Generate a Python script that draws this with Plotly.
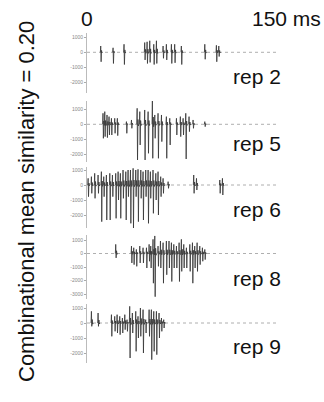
import plotly.graph_objects as go

W, H = 324, 402

# ---- data: spike times (ms), positive peaks and negative troughs
rep2_t = [11.1, 20.9, 29.6, 46.0, 47.9, 50.0, 53.2, 55.3, 60.6, 63.2, 67.2, 69.8, 75.1, 93.7, 102.9, 104.8]
rep2_up = [420, 300, 535, 650, 700, 770, 535, 770, 420, 535, 535, 535, 420, 535, 465, 420]
rep2_dn = [-630, -745, -815, -510, -745, -675, -815, -745, -400, -510, -745, -700, -815, -465, -630, -280]

rep5_t = [12.9, 14.3, 16.1, 17.7, 19.6, 22.2, 24.3, 31.5, 35.5, 40.0, 42.1, 46.0, 48.7, 52.1, 54.0,
          56.6, 59.3, 63.2, 65.9, 71.2, 74.3, 76.5, 78.6, 81.2, 84.4, 93.7]
rep5_up = [733, 844, 622, 511, 400, 400, 400, 178, 289, 1067, 844, 955, 844, 1622, 622,
           733, 622, 511, 400, 400, 511, 400, 733, 511, 289, 178]
rep5_dn = [-933, -822, -889, -711, -711, -600, -755, -600, -267, -2378, -1378, -2378, -1933, -2267, -933,
           -2267, -1156, -2267, -1378, -711, -822, -711, -2311, -489, -267, -156]

rep6_t = [1.1, 3.7, 6.3, 9.0, 11.6, 13.5, 15.6, 18.3, 20.4, 23.0, 24.9, 26.7, 28.8, 31.0, 32.8, 34.7,
          36.8, 38.9, 40.7, 42.9, 44.7, 46.8, 48.7, 50.5, 52.6, 54.8, 56.6, 58.7, 60.6, 64.6,
          84.9, 87.1, 105.6, 107.7]
rep6_up = [444, 556, 778, 667, 889, 556, 667, 778, 667, 778, 889, 778, 1000, 889, 1000, 1000,
           1111, 1000, 1044, 1000, 889, 1000, 1000, 889, 1000, 778, 889, 556, 444, 222,
           667, 444, 333, 444]
rep6_dn = [-778, -556, -889, -556, -2444, -778, -2333, -2333, -778, -2222, -1000, -2222, -889, -2333, -778, -2556,
           -2889, -778, -2444, -889, -2333, -778, -2556, -889, -1889, -1000, -2000, -778, -556, -222,
           -556, -333, -556, -667]

rep8_t = [23.0, 35.5, 37.3, 39.4, 42.1, 44.7, 47.4, 49.5, 50.8, 52.6, 54.0, 56.6, 58.5, 60.6, 63.2,
          65.3, 67.2, 69.1, 71.2, 73.3, 75.1, 77.0, 79.1, 81.8, 83.9, 85.7, 87.6, 89.7, 91.8, 93.7]
rep8_up = [675, 550, 425, 300, 550, 425, 425, 675, 550, 1050, 1300, 550, 925, 800, 925,
           925, 800, 675, 550, 800, 1050, 675, 425, 675, 800, 550, 800, 550, 425, 300]
rep8_dn = [-325, -700, -825, -950, -700, -700, -1075, -575, -1075, -2200, -3200, -950, -1075, -2200, -1575,
           -1075, -2075, -1075, -1075, -2075, -1325, -1075, -1075, -1325, -2200, -1075, -1325, -825, -575, -450]

rep9_t = [3.7, 9.0, 19.6, 22.2, 24.1, 26.2, 28.3, 30.2, 32.0, 34.1, 36.2, 38.9, 40.7, 42.6, 44.7,
          46.8, 49.5, 51.3, 53.2, 55.3, 57.4, 59.3, 61.1]
rep9_up = [778, 667, 556, 444, 556, 444, 333, 556, 222, 1111, 667, 778, 444, 1000, 889,
           222, 889, 889, 778, 778, 667, 333, 222]
rep9_dn = [-222, -222, -889, -556, -667, -778, -667, -444, -556, -2333, -667, -1889, -1000, -889, -2000,
           -667, -889, -2444, -1889, -2111, -1000, -556, -333]

rep_labels = ["rep 2", "rep 5", "rep 6", "rep 8", "rep 9"]
tick_vals_3 = [1000, 0, -1000, -2000]
tick_text_3 = ["1000", "0", "-1000", "-2000"]
tick_vals_4 = [1000, 0, -1000, -2000, -3000]
tick_text_4 = ["1000", "0", "-1000", "-2000", "-3000"]
y_title = "Combinational mean similarity = 0.20"
time_labels = ["0", "150 ms"]
time_range = [0, 150]

series = [(rep2_t, rep2_up, rep2_dn), (rep5_t, rep5_up, rep5_dn), (rep6_t, rep6_up, rep6_dn),
          (rep8_t, rep8_up, rep8_dn), (rep9_t, rep9_up, rep9_dn)]

# ---- layout geometry (pixels)
panel_px = [(33, 93, 52.3, 15.0), (101, 162, 124.3, 15.0), (166.5, 228, 185, 15.0),
            (235, 299, 253.5, 13.5), (304, 363, 323, 15.0)]
label_y_px = [76, 143, 210, 278, 346]
x0_px, x1_px = 87, 276

fig = go.Figure()
for i, ((ts, ups, dns), (top, bot, zero, ppk)) in enumerate(zip(series, panel_px)):
    xs, ys = [], []
    for t, u, d in zip(ts, ups, dns):
        xs += [t - 0.5, t - 0.2, t + 0.1, t + 0.45, t + 0.8, t + 1.1, None]
        ys += [0, u, d, u * 0.3, -u * 0.1, 0, None]
    ax = "" if i == 0 else str(i + 1)
    fig.add_trace(go.Scatter(x=xs, y=ys, mode="lines", line=dict(color="#333333", width=0.8),
                             xaxis="x" + ax, yaxis="y" + ax, hoverinfo="skip", showlegend=False,
                             connectgaps=False))
    ymax = (zero - top) / ppk * 1000
    ymin = -(bot - zero) / ppk * 1000
    tv, tt = (tick_vals_4, tick_text_4) if i == 3 else (tick_vals_3, tick_text_3)
    fig.update_layout(**{
        "xaxis" + ax: dict(domain=[x0_px / W, x1_px / W], range=time_range, visible=False,
                           anchor="y" + ax),
        "yaxis" + ax: dict(domain=[1 - bot / H, 1 - top / H], range=[ymin, ymax],
                           tickvals=tv, ticktext=tt, ticks="outside", ticklen=2, tickwidth=0.8,
                           tickcolor="#aaaaaa", showline=True, linecolor="#bbbbbb", linewidth=0.8,
                           showgrid=False, zeroline=False, anchor="x" + ax,
                           tickfont=dict(size=5, color="#888888", family="Liberation Sans")),
    })
    fig.add_shape(type="line", xref="x" + ax + " domain", yref="y" + ax, x0=0, x1=1, y0=0, y1=0,
                  line=dict(color="#9a9a9a", width=0.8, dash="dot"), layer="below")
    fig.add_annotation(text=rep_labels[i], xref="paper", yref="paper", x=257 / W, y=1 - label_y_px[i] / H,
                       showarrow=False, xanchor="center", yanchor="middle",
                       font=dict(size=21, color="#111111", family="Liberation Sans"))

fig.add_annotation(text=time_labels[0], xref="paper", yref="paper", x=87 / W, y=1 - 18 / H,
                   showarrow=False, xanchor="center", yanchor="middle",
                   font=dict(size=21, color="#111111", family="Liberation Sans"))
fig.add_annotation(text=time_labels[1], xref="paper", yref="paper", x=286 / W, y=1 - 18 / H,
                   showarrow=False, xanchor="center", yanchor="middle",
                   font=dict(size=21, color="#111111", family="Liberation Sans"))
fig.add_annotation(text=y_title, xref="paper", yref="paper", x=26 / W, y=1 - 202 / H, textangle=-90,
                   showarrow=False, xanchor="center", yanchor="middle",
                   font=dict(size=22, color="#111111", family="Liberation Sans"))

fig.update_layout(width=W, height=H, margin=dict(l=0, r=0, t=0, b=0),
                  paper_bgcolor="white", plot_bgcolor="white")
fig.write_html("out.html")
